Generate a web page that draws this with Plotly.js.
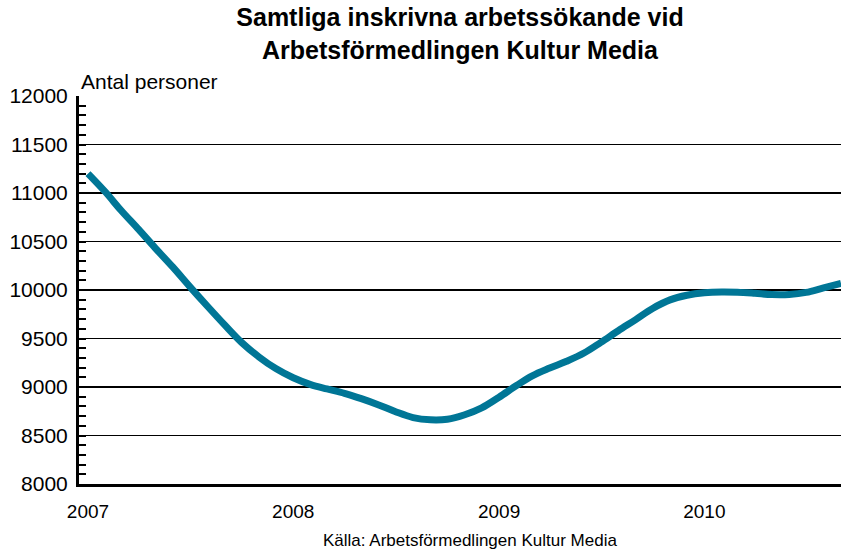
<!DOCTYPE html>
<html>
<head>
<meta charset="utf-8">
<script src="https://cdn.plot.ly/plotly-3.0.1.min.js"></script>
<style>html,body{margin:0;padding:0;background:#fff;}#chart{width:841px;height:549px;}</style>
</head>
<body>
<div id="chart"></div>
<script>
const months = [
  '2007-01-01','2007-02-01','2007-03-01','2007-04-01','2007-05-01','2007-06-01',
  '2007-07-01','2007-08-01','2007-09-01','2007-10-01','2007-11-01','2007-12-01',
  '2008-01-01','2008-02-01','2008-03-01','2008-04-01','2008-05-01','2008-06-01',
  '2008-07-01','2008-08-01','2008-09-01','2008-10-01','2008-11-01','2008-12-01',
  '2009-01-01','2009-02-01','2009-03-01','2009-04-01','2009-05-01','2009-06-01',
  '2009-07-01','2009-08-01','2009-09-01','2009-10-01','2009-11-01','2009-12-01',
  '2010-01-01','2010-02-01','2010-03-01','2010-04-01','2010-05-01','2010-06-01',
  '2010-07-01','2010-08-01','2010-09-01'
];
const jobseekers = [
  11200, 11010, 10820, 10625, 10430, 10235,
  10035, 9835, 9640, 9460, 9310, 9190,
  9095, 9025, 8980, 8935, 8880, 8815,
  8745, 8685, 8662, 8668, 8714, 8785,
  8895, 9015, 9115, 9195, 9265, 9350,
  9460, 9580, 9695, 9810, 9898, 9946,
  9972, 9980, 9977, 9966, 9953, 9954,
  9975, 10022, 10068
];
const yearTicks = ['2007-01-01','2008-01-01','2009-01-01','2010-01-01'];
const yearLabels = ['2007','2008','2009','2010'];
const titleText = 'Samtliga inskrivna arbetssökande vid<br>Arbetsförmedlingen Kultur Media';
const yLabel = 'Antal personer';
const sourceText = 'Källa: Arbetsförmedlingen Kultur Media';

const font = 'Liberation Sans, Arial, sans-serif';

const trace = {
  x: months, y: jobseekers, type: 'scatter', mode: 'lines',
  line: {color: '#007696', width: 7, shape: 'spline', smoothing: 1},
  hoverinfo: 'x+y'
};

const layout = {
  width: 841, height: 549,
  margin: {l: 79, r: 0, t: 96, b: 65, pad: 0},
  paper_bgcolor: '#fff', plot_bgcolor: '#fff',
  showlegend: false,
  font: {family: font, color: '#000'},
  title: {
    text: titleText,
    font: {family: font, size: 25, color: '#000', weight: 'bold'},
    x: 0.5, xref: 'paper', xanchor: 'center',
    y: 1 - 26/549, yref: 'container', yanchor: 'top'
  },
  xaxis: {
    type: 'date',
    range: ['2006-12-16', '2010-09-01'],
    tickvals: yearTicks, ticktext: yearLabels,
    ticks: '', showgrid: false, zeroline: false,
    showline: true, linecolor: '#000', linewidth: 3,
    tickfont: {family: font, size: 19, color: '#000'},
    ticklabelstandoff: 8,
    fixedrange: true
  },
  yaxis: {
    range: [8000, 12000],
    tick0: 8000, dtick: 500, tickformat: 'd',
    ticks: 'inside', ticklen: 7, tickwidth: 2, tickcolor: '#000',
    minor: {dtick: 100, ticks: 'inside', ticklen: 7, tickwidth: 2, tickcolor: '#000', showgrid: false},
    showgrid: true, gridcolor: '#000', gridwidth: 1.3,
    zeroline: false,
    showline: true, linecolor: '#000', linewidth: 3,
    tickfont: {family: font, size: 21, color: '#000'},
    ticklabelstandoff: 4,
    fixedrange: true
  },
  annotations: [
    {text: yLabel, xref: 'paper', yref: 'paper', x: 0, y: (484.3-81)/388.3,
     xanchor: 'left', yanchor: 'middle', showarrow: false,
     font: {family: font, size: 21, color: '#000'}},
    {text: sourceText, xref: 'paper', yref: 'paper', x: (470-79)/762, y: (484.3-541)/388.3,
     xanchor: 'center', yanchor: 'middle', showarrow: false,
     font: {family: font, size: 17, color: '#000'}}
  ]
};

Plotly.newPlot('chart', [trace], layout, {displayModeBar: false, staticPlot: true});
</script>
</body>
</html>
